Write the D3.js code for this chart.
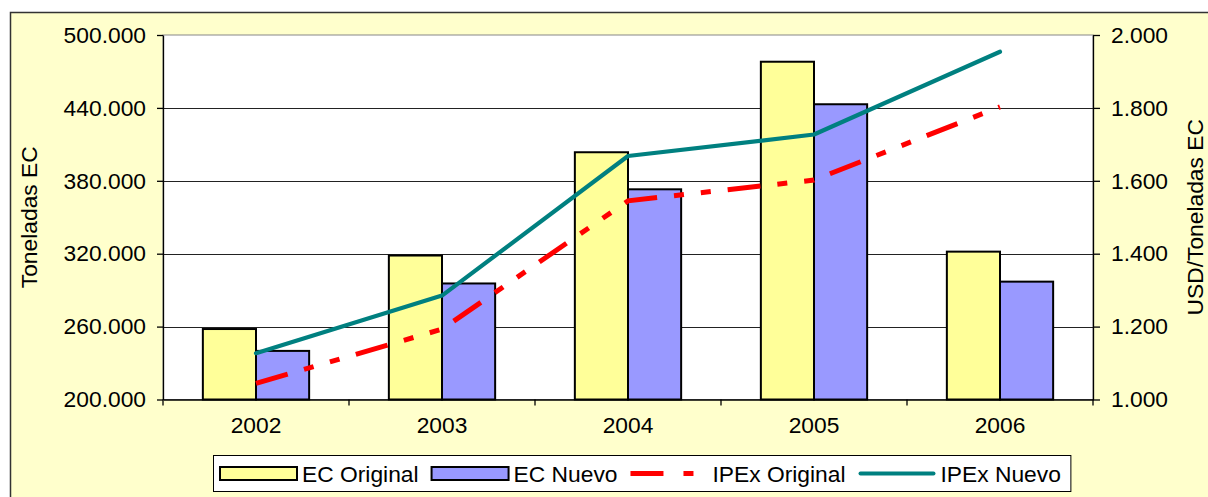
<!DOCTYPE html>
<html>
<head>
<meta charset="utf-8">
<script src="https://cdn.jsdelivr.net/npm/d3@7"></script>
<style>
  html, body { margin: 0; padding: 0; background: #fff; }
  svg { display: block; }
  text { font-family: "Liberation Sans", Arial, sans-serif; fill: #000; }
</style>
</head>
<body>
<svg id="chart" width="1208" height="497"></svg>
<script>
// ---- data ----
const years = ["2002", "2003", "2004", "2005", "2006"];
const ecOriginal = [258000, 318500, 403500, 478000, 321700];
const ecNuevo = [240000, 295500, 373000, 443000, 297000];
const ipexOriginal = [1044, 1193, 1545, 1602, 1803];
const ipexNuevo = [1127, 1285, 1668, 1727, 1954];
const leftTicks = [200000, 260000, 320000, 380000, 440000, 500000];
const rightTicks = [1000, 1200, 1400, 1600, 1800, 2000];
const seriesNames = ["EC Original", "EC Nuevo", "IPEx Original", "IPEx Nuevo"];

// ---- layout ----
const W = 1208, H = 497;
const plot = { left: 163, right: 1093, top: 35, bottom: 399.5 };
const FS = 22.8;
const colors = { yellow: "#FFFF99", blue: "#9999FF", red: "#FF0000", teal: "#008080" };

const svg = d3.select("#chart");
const loc = d3.formatLocale({ decimal: ",", thousands: ".", grouping: [3], currency: ["", ""] });
const fmt = loc.format(",d");

// outer chart area
svg.append("rect").attr("x", 10.5).attr("y", 12.5).attr("width", W).attr("height", H)
  .attr("fill", "#FFFFCC").attr("stroke", "#333").attr("stroke-width", 1.5);

// plot area
svg.append("rect").attr("x", plot.left).attr("y", plot.top)
  .attr("width", plot.right - plot.left).attr("height", plot.bottom - plot.top)
  .attr("fill", "#fff").attr("stroke", "#888").attr("stroke-width", 1);

const x = d3.scaleBand().domain(years).range([plot.left, plot.right]).paddingInner(0).paddingOuter(0);
const yL = d3.scaleLinear().domain([200000, 500000]).range([plot.bottom, plot.top]);
const yR = d3.scaleLinear().domain([1000, 2000]).range([plot.bottom, plot.top]);

// gridlines
svg.append("g").selectAll("line").data(leftTicks.slice(1, -1)).join("line")
  .attr("x1", plot.left).attr("x2", plot.right)
  .attr("y1", d => Math.round(yL(d)) + 0.5).attr("y2", d => Math.round(yL(d)) + 0.5)
  .attr("stroke", "#222").attr("stroke-width", 1);

// bars
const bw = x.bandwidth() / 3.5;
const off = bw * 0.75;
const barG = svg.append("g");
barG.selectAll("rect.orig").data(years).join("rect").attr("class", "orig")
  .attr("x", d => x(d) + off).attr("width", bw)
  .attr("y", (d, i) => yL(ecOriginal[i])).attr("height", (d, i) => plot.bottom - yL(ecOriginal[i]))
  .attr("fill", colors.yellow).attr("stroke", "#000").attr("stroke-width", 2);
barG.selectAll("rect.nuevo").data(years).join("rect").attr("class", "nuevo")
  .attr("x", d => x(d) + off + bw).attr("width", bw)
  .attr("y", (d, i) => yL(ecNuevo[i])).attr("height", (d, i) => plot.bottom - yL(ecNuevo[i]))
  .attr("fill", colors.blue).attr("stroke", "#000").attr("stroke-width", 2);

// axes
const axL = svg.append("g").attr("transform", `translate(${plot.left},0)`)
  .call(d3.axisLeft(yL).tickValues(leftTicks).tickFormat(fmt).tickSizeInner(6).tickSizeOuter(0).tickPadding(11));
const axR = svg.append("g").attr("transform", `translate(${plot.right},0)`)
  .call(d3.axisRight(yR).tickValues(rightTicks).tickFormat(fmt).tickSizeInner(7).tickSizeOuter(0).tickPadding(11));
const axB = svg.append("g").attr("transform", `translate(0,${plot.bottom})`)
  .call(d3.axisBottom(x).tickSize(0).tickPadding(33));
// category boundary ticks
svg.append("g").selectAll("line").data(years.concat(["end"])).join("line")
  .attr("x1", (d, i) => i < years.length ? x(d) : plot.right)
  .attr("x2", (d, i) => i < years.length ? x(d) : plot.right)
  .attr("y1", plot.bottom).attr("y2", plot.bottom + 6)
  .attr("stroke", "#000").attr("stroke-width", 1.3);

[axL, axR, axB].forEach(a => {
  a.selectAll("path.domain").attr("stroke", "#000").attr("stroke-width", 1.3);
  a.selectAll(".tick line").attr("stroke", "#000").attr("stroke-width", 1.3);
  a.selectAll("text").attr("font-size", FS).attr("font-family", "Liberation Sans, Arial, sans-serif").attr("fill", "#000");
});
axB.selectAll("text").attr("dy", "0").attr("dominant-baseline", "auto");

// lines
const lineR = d3.line().x((d, i) => x(years[i]) + x.bandwidth() / 2).y(d => yR(d));
svg.append("path").datum(ipexOriginal).attr("d", lineR)
  .attr("fill", "none").attr("stroke", colors.red).attr("stroke-width", 5)
  .attr("stroke-dasharray", "33,17,10,17,10,17");
svg.append("path").datum(ipexNuevo).attr("d", lineR)
  .attr("fill", "none").attr("stroke", colors.teal).attr("stroke-width", 4.2)
  .attr("stroke-linejoin", "round").attr("stroke-linecap", "round");

// axis titles
svg.append("text").attr("transform", `translate(37,${(plot.top + plot.bottom) / 2}) rotate(-90)`)
  .attr("text-anchor", "middle").attr("font-size", FS).text("Toneladas EC");
svg.append("text").attr("transform", `translate(1203,${(plot.top + plot.bottom) / 2}) rotate(-90)`)
  .attr("text-anchor", "middle").attr("font-size", FS).text("USD/Toneladas EC");

// legend
const leg = svg.append("g");
const legBox = leg.append("rect").attr("y", 455.5).attr("height", 36)
  .attr("fill", "#fff").attr("stroke", "#000").attr("stroke-width", 1);
const legY = 473.5;
let cx = 220;
const startX = 213.5;
seriesNames.forEach((name, i) => {
  const sw = 77;
  if (i < 2) {
    leg.append("rect").attr("x", cx).attr("y", legY - 6.5).attr("width", sw).attr("height", 13)
      .attr("fill", i === 0 ? colors.yellow : colors.blue).attr("stroke", "#000").attr("stroke-width", 2);
  } else if (i === 2) {
    leg.append("line").attr("x1", cx).attr("x2", cx + sw).attr("y1", legY).attr("y2", legY)
      .attr("stroke", colors.red).attr("stroke-width", 5).attr("stroke-dasharray", "33,20,10,20");
  } else {
    leg.append("line").attr("x1", cx + 2).attr("x2", cx + sw - 2).attr("y1", legY).attr("y2", legY)
      .attr("stroke", colors.teal).attr("stroke-width", 4).attr("stroke-linecap", "round");
  }
  const t = leg.append("text").attr("x", cx + sw + 5).attr("y", legY + 8).attr("font-size", FS).text(name);
  cx = cx + sw + 5 + t.node().getComputedTextLength() + 13;
});
legBox.attr("x", startX).attr("width", cx - 13 + 10 - startX);
</script>
</body>
</html>
